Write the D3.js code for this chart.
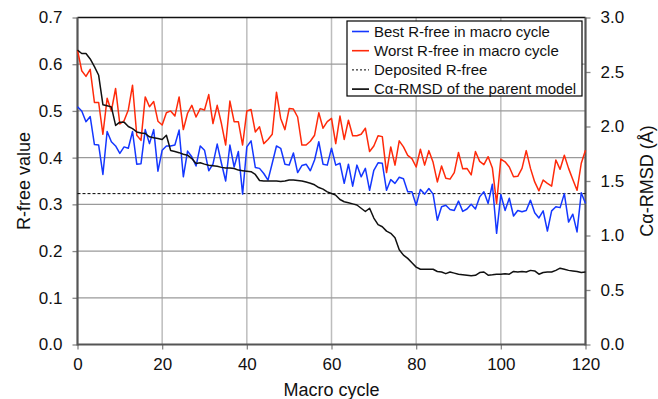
<!DOCTYPE html>
<html>
<head>
<meta charset="utf-8">
<script src="https://cdn.jsdelivr.net/npm/d3@7"></script>
<style>
    body { margin: 0; background: #fff; }
    svg { display: block; font-family: "Liberation Sans", Arial, sans-serif; }
</style>
</head>
<body>
<div id="chart"></div>
<script>
// macro cycle 0..120
const cycles = d3.range(0, 121);

const bestRfree = [
    0.509, 0.500, 0.477, 0.488, 0.428, 0.427, 0.364, 0.456, 0.434, 0.425,
    0.409, 0.423, 0.420, 0.456, 0.386, 0.387, 0.460, 0.430, 0.460, 0.371,
    0.416, 0.425, 0.425, 0.427, 0.459, 0.359, 0.414, 0.402, 0.382, 0.425,
    0.416, 0.372, 0.386, 0.429, 0.388, 0.350, 0.427, 0.380, 0.413, 0.322,
    0.423, 0.436, 0.379, 0.377, 0.366, 0.352, 0.388, 0.425, 0.420, 0.386,
    0.384, 0.410, 0.368, 0.383, 0.386, 0.372, 0.395, 0.434, 0.386, 0.384,
    0.420, 0.384, 0.388, 0.345, 0.386, 0.339, 0.384, 0.359, 0.377, 0.330,
    0.373, 0.389, 0.388, 0.330, 0.353, 0.345, 0.358, 0.355, 0.327, 0.327,
    0.298, 0.332, 0.322, 0.334, 0.322, 0.266, 0.295, 0.298, 0.289, 0.287,
    0.307, 0.285, 0.290, 0.300, 0.290, 0.316, 0.327, 0.302, 0.343, 0.238,
    0.321, 0.287, 0.313, 0.275, 0.287, 0.284, 0.287, 0.309, 0.282, 0.271,
    0.286, 0.243, 0.286, 0.295, 0.293, 0.323, 0.262, 0.279, 0.241, 0.325,
    0.302
];

const worstRfree = [
    0.630, 0.586, 0.574, 0.589, 0.518, 0.518, 0.450, 0.527, 0.500, 0.548,
    0.472, 0.479, 0.502, 0.555, 0.448, 0.437, 0.530, 0.509, 0.520, 0.478,
    0.470, 0.496, 0.500, 0.489, 0.530, 0.460, 0.495, 0.512, 0.487, 0.505,
    0.502, 0.535, 0.473, 0.512, 0.473, 0.427, 0.521, 0.477, 0.477, 0.427,
    0.500, 0.503, 0.455, 0.466, 0.430, 0.439, 0.450, 0.540, 0.484, 0.460,
    0.505, 0.504, 0.487, 0.427, 0.427, 0.435, 0.448, 0.496, 0.463, 0.477,
    0.484, 0.430, 0.489, 0.439, 0.480, 0.447, 0.447, 0.450, 0.463, 0.413,
    0.425, 0.447, 0.445, 0.368, 0.423, 0.384, 0.436, 0.423, 0.405, 0.398,
    0.380, 0.418, 0.384, 0.415, 0.390, 0.348, 0.382, 0.356, 0.354, 0.368,
    0.411, 0.376, 0.377, 0.363, 0.413, 0.392, 0.385, 0.402, 0.378, 0.302,
    0.397, 0.391, 0.380, 0.359, 0.360, 0.377, 0.415, 0.377, 0.348, 0.329,
    0.352, 0.345, 0.339, 0.395, 0.375, 0.405, 0.377, 0.353, 0.330, 0.388,
    0.416
];

const caRmsd = [
    2.70, 2.67, 2.67, 2.62, 2.55, 2.47, 2.20, 2.19, 2.18, 2.01,
    2.04, 2.04, 2.00, 1.98, 1.95, 1.94, 1.936, 1.905, 1.896, 1.89,
    1.88, 1.92, 1.78, 1.77, 1.76, 1.746, 1.737, 1.706, 1.66, 1.667,
    1.655, 1.645, 1.64, 1.635, 1.625, 1.62, 1.62, 1.615, 1.60, 1.595,
    1.59, 1.585, 1.56, 1.505, 1.50, 1.50, 1.50, 1.50, 1.495, 1.50,
    1.51, 1.51, 1.505, 1.50, 1.49, 1.48, 1.465, 1.44, 1.425, 1.40,
    1.385, 1.37, 1.33, 1.31, 1.30, 1.29, 1.28, 1.25, 1.22, 1.25,
    1.16, 1.10, 1.08, 1.04, 1.02, 0.98, 0.87, 0.82, 0.79, 0.75,
    0.71, 0.69, 0.69, 0.69, 0.69, 0.67, 0.665, 0.65, 0.665, 0.655,
    0.645, 0.64, 0.635, 0.63, 0.635, 0.66, 0.665, 0.636, 0.64, 0.645,
    0.645, 0.65, 0.645, 0.67, 0.665, 0.67, 0.665, 0.68, 0.675, 0.645,
    0.66, 0.665, 0.665, 0.68, 0.70, 0.69, 0.68, 0.675, 0.67, 0.66,
    0.665
];

const depositedRfree = 0.323;

const xTicks = [0, 20, 40, 60, 80, 100, 120];
const yLeftTicks = [0, 0.1, 0.2, 0.3, 0.4, 0.5, 0.6, 0.7];
const yRightTicks = [0, 0.5, 1.0, 1.5, 2.0, 2.5, 3.0];

const legendItems = [
    { label: 'Best R-free in macro cycle', color: '#1437ff', dash: null },
    { label: 'Worst R-free in macro cycle', color: '#ff2a0a', dash: null },
    { label: 'Deposited R-free', color: '#000', dash: '2,2' },
    { label: 'C\u03b1-RMSD of the parent model', color: '#000', dash: null }
];

let width = 658,
    height = 399,
    padding = { left: 77.5, right: 72.5, top: 17.5, bottom: 54.5 },
    plotW = width - padding.left - padding.right,
    plotH = height - padding.top - padding.bottom;

let svg = d3.select('#chart')
    .append('svg')
        .attr('width', width)
        .attr('height', height);

let x = d3.scaleLinear().domain([0, 120]).range([padding.left, padding.left + plotW]);
let yL = d3.scaleLinear().domain([0, 0.7]).range([padding.top + plotH, padding.top]);
let yR = d3.scaleLinear().domain([0, 3.0]).range([padding.top + plotH, padding.top]);

// grid
let gridG = svg.append('g').attr('class', 'grid');
gridG.selectAll('line.v')
    .data(xTicks.slice(1, -1))
    .enter()
    .append('line')
        .attr('class', 'v')
        .attr('x1', d => x(d)).attr('x2', d => x(d))
        .attr('y1', yL(0.7)).attr('y2', yL(0))
        .attr('stroke', '#bdbdbd')
        .attr('stroke-width', 1.5);
gridG.selectAll('line.h')
    .data(yLeftTicks.slice(1, -1))
    .enter()
    .append('line')
        .attr('class', 'h')
        .attr('x1', x(0)).attr('x2', x(120))
        .attr('y1', d => yL(d)).attr('y2', d => yL(d))
        .attr('stroke', '#9a9a9a')
        .attr('stroke-width', 1.3);

// axes
let axisColor = '#555';
let xAxis = svg.append('g')
    .attr('transform', 'translate(0,' + yL(0) + ')')
    .call(d3.axisBottom(x).tickValues(xTicks).tickSize(5).tickPadding(8).tickFormat(d3.format('d')));
let yAxisL = svg.append('g')
    .attr('transform', 'translate(' + x(0) + ',0)')
    .call(d3.axisLeft(yL).tickValues(yLeftTicks).tickSize(5).tickPadding(10).tickFormat(d3.format('.1f')));
let yAxisR = svg.append('g')
    .attr('transform', 'translate(' + x(120) + ',0)')
    .call(d3.axisRight(yR).tickValues(yRightTicks).tickSize(5).tickPadding(10).tickFormat(d3.format('.1f')));

[xAxis, yAxisL, yAxisR].forEach(g => {
    g.select('.domain').remove();
    g.selectAll('.tick line').attr('stroke', '#888').attr('stroke-width', 1.3);
    g.selectAll('.tick text')
        .attr('fill', '#111')
        .style('font-size', '17px')
        .style('font-family', '"Liberation Sans", Arial, sans-serif');
});

// frame
svg.append('line')
    .attr('x1', x(0)).attr('x2', x(120))
    .attr('y1', yL(0.7)).attr('y2', yL(0.7))
    .attr('stroke', '#111').attr('stroke-width', 1.6);
svg.append('line')
    .attr('x1', x(0)).attr('x2', x(120))
    .attr('y1', yL(0)).attr('y2', yL(0))
    .attr('stroke', axisColor).attr('stroke-width', 2.2);
svg.append('line')
    .attr('x1', x(0)).attr('x2', x(0))
    .attr('y1', yL(0.7)).attr('y2', yL(0) + 1)
    .attr('stroke', axisColor).attr('stroke-width', 2.2);
svg.append('line')
    .attr('x1', x(120)).attr('x2', x(120))
    .attr('y1', yL(0.7)).attr('y2', yL(0) + 1)
    .attr('stroke', axisColor).attr('stroke-width', 2.2);

// deposited R-free
svg.append('line')
    .attr('x1', x(0)).attr('x2', x(120))
    .attr('y1', yL(depositedRfree)).attr('y2', yL(depositedRfree))
    .attr('stroke', '#000')
    .attr('stroke-width', 1)
    .attr('stroke-dasharray', '3,2');

let lineL = d3.line().x((d, i) => x(cycles[i])).y(d => yL(d));
let lineR = d3.line().x((d, i) => x(cycles[i])).y(d => yR(d));

let seriesG = svg.append('g').attr('class', 'series');
seriesG.append('path')
    .attr('d', lineL(bestRfree))
    .attr('fill', 'none')
    .attr('stroke', legendItems[0].color)
    .attr('stroke-width', 1.5)
    .attr('stroke-linejoin', 'round');
seriesG.append('path')
    .attr('d', lineL(worstRfree))
    .attr('fill', 'none')
    .attr('stroke', legendItems[1].color)
    .attr('stroke-width', 1.5)
    .attr('stroke-linejoin', 'round');
seriesG.append('path')
    .attr('d', lineR(caRmsd))
    .attr('fill', 'none')
    .attr('stroke', '#111')
    .attr('stroke-width', 1.5)
    .attr('stroke-linejoin', 'round');

// legend
let legendG = svg.append('g').attr('transform', 'translate(347,21)');
legendG.append('rect')
    .attr('width', 235)
    .attr('height', 75)
    .attr('fill', '#fff')
    .attr('stroke', '#000')
    .attr('stroke-width', 1.2);
let legendRows = legendG.selectAll('g.row')
    .data(legendItems)
    .enter()
    .append('g')
        .attr('class', 'row')
        .attr('transform', (d, i) => 'translate(0,' + (10.5 + i * 19.2) + ')');
legendRows.append('line')
    .attr('x1', 5).attr('x2', 22)
    .attr('stroke', d => d.color)
    .attr('stroke-width', d => d.dash ? 1 : 1.6)
    .attr('stroke-dasharray', d => d.dash);
legendRows.append('text')
    .attr('x', 27)
    .attr('dy', '0.35em')
    .attr('fill', '#111')
    .style('font-size', '15px')
    .text(d => d.label);

// axis titles
svg.append('text')
    .attr('x', x(60))
    .attr('y', 396)
    .attr('text-anchor', 'middle')
    .attr('fill', '#111')
    .style('font-size', '18px')
    .text('Macro cycle');
svg.append('text')
    .attr('transform', 'translate(30,' + yL(0.35) + ') rotate(-90)')
    .attr('text-anchor', 'middle')
    .attr('fill', '#111')
    .style('font-size', '18px')
    .text('R-free value');
svg.append('text')
    .attr('transform', 'translate(653,' + yL(0.35) + ') rotate(-90)')
    .attr('text-anchor', 'middle')
    .attr('fill', '#111')
    .style('font-size', '18px')
    .text('C\u03b1-RMSD (\u00c5)');
</script>
</body>
</html>
